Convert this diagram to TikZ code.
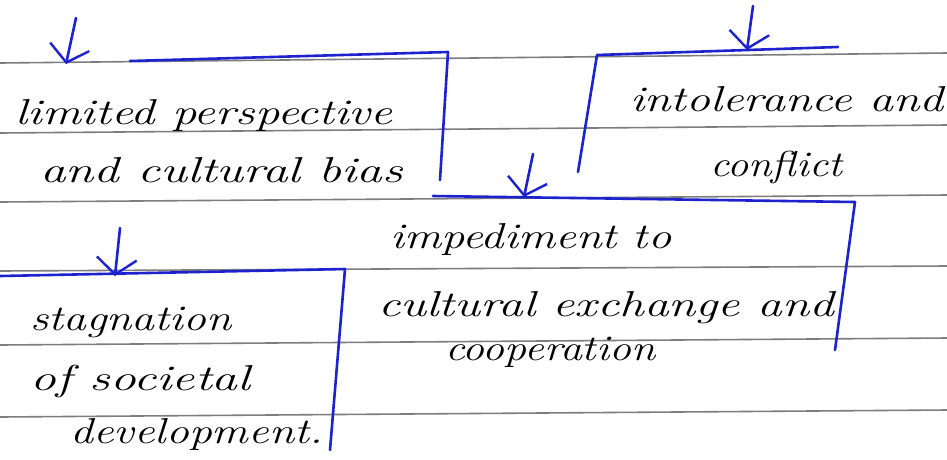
\documentclass[tikz,border=0pt]{standalone}
\usetikzlibrary{arrows.meta}
\definecolor{ink}{RGB}{28,34,205}
\definecolor{rulegray}{RGB}{125,125,125}
\tikzset{
    inkline/.style={ink, line width=2.6pt, line join=round, line cap=round},
    inkarrow/.style={inkline, -{Straight Barb[length=16pt,width=40pt,line width=2.4pt]}},
    note/.style={font=\fontsize{36}{36}\selectfont\itshape, inner sep=0pt, anchor=base west, transform shape},
}
\begin{document}
\begin{tikzpicture}[x=1pt, y=-1pt]
    \useasboundingbox (0,0) rectangle (947,459);
    \fill[white] (0,0) rectangle (947,459);
    % ruled lines of the page
    \foreach \ya/\yb in {63/53, 133/125, 202/195, 271/266, 345/338, 417/410}
        \draw[rulegray, line width=1.6pt] (0,\ya) -- (947,\yb);

    % texts
    \node[note, xscale=1.35] (lim1) at (15,124) {limited perspective};
    \node[note, xscale=1.42] (lim2) at (40,182) {and cultural bias};
    \node[note, xscale=1.33] (int1) at (630,111) {intolerance and};
    \node[note, xscale=1.18] (int2) at (710,176) {conflict};
    \node[note, xscale=1.29] (imp1) at (390,248) {impediment to};
    \node[note, xscale=1.37] (imp2) at (378,316) {cultural exchange and};
    \node[note, xscale=1.22] (imp3) at (445,360) {cooperation};
    \node[note, xscale=1.27] (stg1) at (30,330) {stagnation};
    \node[note, xscale=1.43] (stg2) at (30,390) {of societal};
    \node[note, xscale=1.27] (stg3) at (70,443) {development.};

    % brackets
    \coordinate (limA) at (130,61);
    \coordinate (limB) at (448,52);
    \coordinate (limC) at (440,180);
    \coordinate (intA) at (838,47);
    \coordinate (intB) at (597,55);
    \coordinate (intC) at (578,172);
    \coordinate (impA) at (433,196);
    \coordinate (impB) at (855,202);
    \coordinate (impC) at (835,350);
    \coordinate (stgA) at (0,276);
    \coordinate (stgB) at (345,269);
    \coordinate (stgC) at (330,450);
    \draw[inkline] (limA) -- (limB) -- (limC);
    \draw[inkline] (intA) -- (intB) -- (intC);
    \draw[inkline] (impA) -- (impB) -- (impC);
    \draw[inkline] (stgA) -- (stgB) -- (stgC);

    % arrows
    \coordinate (limT) at (76,18);
    \coordinate (limH) at (66,64);
    \coordinate (intT) at (753,6);
    \coordinate (intH) at (747,50);
    \coordinate (impT) at (533,154);
    \coordinate (impH) at (524,197);
    \coordinate (stgT) at (120,228);
    \coordinate (stgH) at (115,276);
    \draw[inkarrow] (limT) -- (limH);
    \draw[inkarrow] (intT) -- (intH);
    \draw[inkarrow] (impT) -- (impH);
    \draw[inkarrow] (stgT) -- (stgH);
\end{tikzpicture}
\end{document}
